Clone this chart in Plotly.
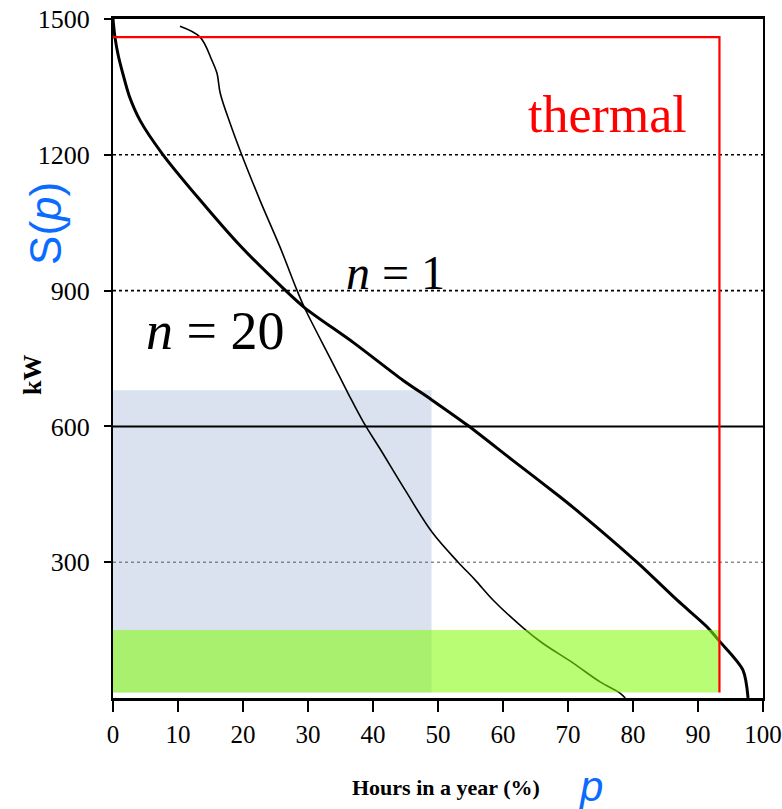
import plotly.graph_objects as go

# ---- data ----
x_ticks = [0, 10, 20, 30, 40, 50, 60, 70, 80, 90, 100]
y_ticks = [300, 600, 900, 1200, 1500]

# n = 20 (thick) duration curve
n20_p = [0, 0.3, 0.8, 1.5, 2.5, 4.2, 7.7, 13.4, 19.5, 26.2, 29.5, 37, 44.6, 49.1, 54.5,
         61.5, 68.8, 71.8, 80.6, 86.8, 91.4, 93.4, 96.9, 97.7]
n20_kw = [1500, 1460, 1420, 1380, 1330, 1275, 1200, 1100, 1000, 905, 862, 785, 702, 658, 603,
          525, 444, 409, 300, 216, 157, 124, 62, 0]

# n = 1 (thin) duration curve
n1_p = [10.3, 13.4, 15.2, 16.0, 16.5, 18.0, 19.8, 22.6, 25.7, 28.3, 29.5, 33.8, 36.2, 38.5,
        41.1, 45.0, 49.1, 53.1, 55.7, 58.5, 63.1, 66.0, 70.8, 75.0, 78.0, 78.8]
n1_kw = [1484, 1460, 1409, 1380, 1336, 1270, 1200, 1100, 996, 901, 861, 740, 672, 610,
         550, 458, 366, 300, 261, 216, 155, 122, 77, 35, 11, 0]

# thermal
thermal_p = [0, 93.3, 93.3]
thermal_kw = [1460, 1460, 12]

# highlighted regions
blue_p = [0, 49]
blue_kw = [12, 680]
green_p = [0, 93.3]
green_kw = [12, 150]

# reference levels
dotted_levels = [900, 1200]
faint_levels = [300]
solid_levels = [600]

fig = go.Figure()
x_lo, x_hi = x_ticks[0], x_ticks[-1]

# blue region (below gridlines)
fig.add_shape(type="rect", xref="x", yref="y", x0=blue_p[0], x1=blue_p[1],
              y0=blue_kw[0], y1=blue_kw[1], fillcolor="#d9e2ee", line_width=0,
              layer="below")
for lv in dotted_levels:
    fig.add_shape(type="line", xref="x", yref="y", x0=x_lo, x1=x_hi, y0=lv, y1=lv,
                  line=dict(color="black", width=1.6, dash="dot"), layer="below")
for lv in faint_levels:
    fig.add_shape(type="line", xref="x", yref="y", x0=x_lo, x1=x_hi, y0=lv, y1=lv,
                  line=dict(color="#555555", width=1, dash="dot"), layer="below")
for lv in solid_levels:
    fig.add_shape(type="line", xref="x", yref="y", x0=x_lo, x1=x_hi, y0=lv, y1=lv,
                  line=dict(color="black", width=2), layer="below")

fig.add_trace(go.Scatter(x=n1_p, y=n1_kw, mode="lines",
                         line=dict(color="black", width=1.6, shape="spline", smoothing=1.0),
                         showlegend=False, hoverinfo="skip"))
fig.add_trace(go.Scatter(x=n20_p, y=n20_kw, mode="lines",
                         line=dict(color="black", width=3, shape="spline", smoothing=0.8),
                         showlegend=False, hoverinfo="skip"))

# green region (semi-transparent, over curves)
fig.add_trace(go.Scatter(x=[green_p[0], green_p[1], green_p[1], green_p[0], green_p[0]],
                         y=[green_kw[0], green_kw[0], green_kw[1], green_kw[1], green_kw[0]],
                         mode="none", fill="toself", fillcolor="rgba(131,252,10,0.57)",
                         showlegend=False, hoverinfo="skip"))

fig.add_trace(go.Scatter(x=thermal_p, y=thermal_kw, mode="lines",
                         line=dict(color="#ff0000", width=2.2),
                         showlegend=False, hoverinfo="skip"))

serif = "Liberation Serif, Times New Roman, serif"
sans = "Liberation Sans, Arial, sans-serif"

def ann(**kw):
    fig.add_annotation(showarrow=False, xanchor="center", yanchor="middle", **kw)

ann(x=76.0, y=1290, xref="x", yref="y", text="thermal",
    font=dict(family=serif, size=52, color="#ff0000"))
ann(x=43.4, y=940, xref="x", yref="y", text="<i>n</i> = 1",
    font=dict(family=serif, size=48, color="black"))
ann(x=15.7, y=810, xref="x", yref="y", text="<i>n</i> = 20",
    font=dict(family=serif, size=54, color="black"))
ann(x=-0.105, y=1049, xref="paper", yref="y", text="S(<i>p</i>)", textangle=-90,
    font=dict(family=sans, size=44, color="#0a6cff"))
ann(x=-0.125, y=713, xref="paper", yref="y", text="<b>kW</b>", textangle=-90,
    font=dict(family=serif, size=26, color="black"))
ann(x=0.512, y=-0.1325, xref="paper", yref="paper", text="<b>Hours in a year (%)</b>",
    font=dict(family=serif, size=22, color="black"))
ann(x=0.734, y=-0.13, xref="paper", yref="paper", text="<i>p</i>",
    font=dict(family=sans, size=42, color="#0a6cff"))

fig.update_xaxes(range=[x_lo, x_hi], tickvals=x_ticks, ticktext=[str(v) for v in x_ticks],
                 showgrid=False, zeroline=False, showline=True, linecolor="black",
                 linewidth=2.5, mirror=True, ticks="outside", ticklen=11, tickwidth=2,
                 tickcolor="black", ticklabelstandoff=1, automargin=False,
                 ticklabeloverflow="allow",
                 tickfont=dict(family=serif, size=25, color="black"))
fig.update_yaxes(range=[0, 1500], tickvals=y_ticks, ticktext=[str(v) for v in y_ticks],
                 showgrid=False, zeroline=False, showline=True, linecolor="black",
                 linewidth=2, mirror=True, ticks="outside", ticklen=7, tickwidth=2,
                 tickcolor="black", ticklabelstandoff=9, automargin=False,
                 ticklabeloverflow="allow",
                 tickfont=dict(family=serif, size=26, color="black"))

fig.update_layout(width=782, height=809, margin=dict(l=113, r=19, t=19, b=111),
                  paper_bgcolor="white", plot_bgcolor="white", showlegend=False)

# remove the default page margin so the figure fills the window exactly
fig.write_html("out.html", config={"displayModeBar": False},
               post_script="document.body.style.margin='0px';document.body.style.overflow='hidden';")
